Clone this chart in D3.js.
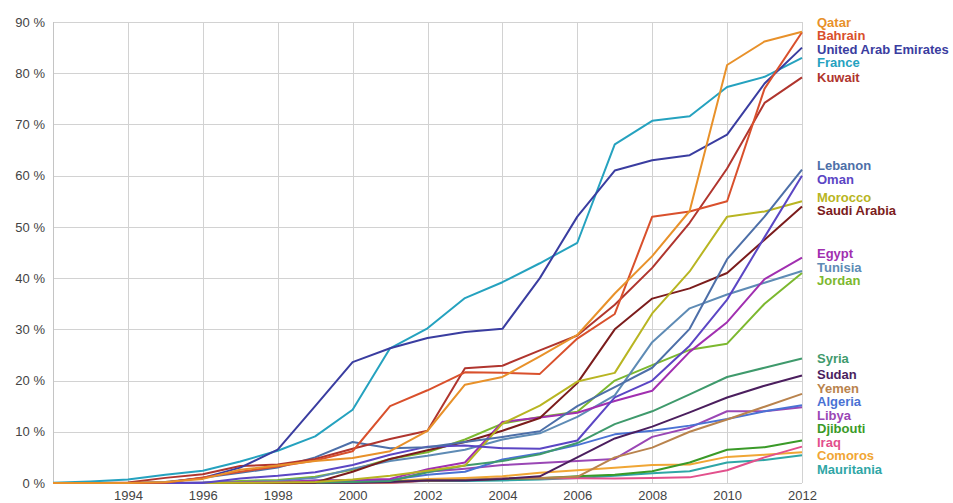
<!DOCTYPE html>
<html>
<head>
<meta charset="utf-8">
<script src="https://cdn.jsdelivr.net/npm/d3@7"></script>
<style>
  html, body { margin: 0; padding: 0; background: #fff; }
  svg { display: block; }
  text { font-family: Arial, "Liberation Sans", sans-serif; }
</style>
</head>
<body>
<svg id="chart" width="953" height="503"></svg>
<script>
// ---- Data (internet users, % of population) ----
const years = [1992,1993,1994,1995,1996,1997,1998,1999,2000,2001,2002,2003,2004,2005,2006,2007,2008,2009,2010,2011,2012];
const xTicks = [1994,1996,1998,2000,2002,2004,2006,2008,2010,2012];
const yTicks = [0,10,20,30,40,50,60,70,80,90];

const countries = ["Qatar","Bahrain","United Arab Emirates","France","Kuwait","Lebanon","Oman","Morocco","Saudi Arabia","Egypt","Tunisia","Jordan","Syria","Sudan","Yemen","Algeria","Libya","Djibouti","Iraq","Comoros","Mauritania"];
const colors = ["#e8912a","#d9502c","#3a3da0","#25a2bf","#b0352e","#4d6fa8","#5b46c4","#b8b522","#7b1c1c","#a12fb0","#5e8bb5","#7cb82f","#3f9a6c","#4b1e5e","#b9834d","#4a72d4","#9a47b5","#3a9a28","#e2508c","#f0a635","#2fa6a6"];

const qatar      = [0,0,0,0.2,0.8,2.6,3.4,4.3,4.9,6.2,10.2,19.2,20.7,24.7,28.9,37.0,44.3,53.1,81.6,86.2,88.1];
const bahrain    = [0,0,0,0.03,1.1,2.2,3.2,4.4,6.2,15.0,18.1,21.6,21.5,21.3,28.2,33.0,52.0,53.0,55.0,77.0,88.0];
const uae        = [0,0,0,0.1,1.0,3.0,6.5,15.0,23.6,26.3,28.3,29.5,30.1,40.0,52.0,61.0,63.0,64.0,68.0,78.0,85.0];
const france     = [0.05,0.3,0.7,1.6,2.4,4.2,6.3,9.1,14.3,26.3,30.2,36.1,39.2,42.9,46.9,66.1,70.7,71.6,77.3,79.3,83.0];
const kuwait     = [0,0,0.1,1.0,1.7,3.3,3.6,4.7,6.7,8.6,10.2,22.4,22.9,25.9,28.8,34.8,42.0,50.8,61.4,74.2,79.2];
const lebanon    = [0,0,0,0.2,1.0,2.0,3.0,5.0,8.0,6.8,7.0,8.0,9.0,10.1,15.0,18.7,22.5,30.1,43.7,52.0,61.2];
const oman       = [0,0,0,0,0,0.9,1.4,2.1,3.5,5.5,7.1,7.3,6.8,6.7,8.3,16.7,20.0,26.8,35.8,48.0,60.0];
const morocco    = [0,0,0,0,0.02,0.05,0.1,0.2,0.7,1.4,2.4,3.4,11.6,15.1,19.8,21.5,33.1,41.3,52.0,53.0,55.0];
const saudi      = [0,0,0,0,0,0,0,0.1,2.2,4.7,6.4,8.0,10.2,12.7,19.5,30.0,36.0,38.0,41.0,47.5,54.0];
const egypt      = [0,0,0,0,0.05,0.1,0.2,0.5,0.6,0.8,2.7,4.0,11.9,12.8,13.7,16.0,18.0,25.6,31.4,39.8,44.0];
const tunisia    = [0,0,0,0,0.1,0.2,0.4,1.0,2.8,4.3,5.3,6.5,8.5,9.7,12.9,17.1,27.5,34.1,36.8,39.1,41.4];
const jordan     = [0,0,0,0,0.05,0.4,0.6,1.2,2.6,4.7,6.0,8.5,11.6,12.9,13.9,20.0,23.0,26.0,27.2,35.0,41.0];
const syria      = [0,0,0,0,0,0,0.05,0.1,0.2,0.4,2.1,3.4,4.3,5.6,7.8,11.5,14.0,17.3,20.7,22.5,24.3];
const sudan      = [0,0,0,0,0,0,0,0.03,0.03,0.2,0.5,0.5,0.8,1.3,5.0,8.7,11.0,13.8,16.7,19.0,21.0];
const yemen      = [0,0,0,0,0,0.01,0.02,0.05,0.08,0.09,0.5,0.6,0.9,1.0,1.2,5.0,6.9,10.0,12.4,14.9,17.4];
const algeria    = [0,0,0,0,0,0,0.02,0.5,0.5,0.65,1.6,2.2,4.6,5.8,7.4,9.5,10.2,11.2,12.5,14.0,15.2];
const libya      = [0,0,0,0,0,0,0.1,0.2,0.2,0.4,2.2,2.8,3.5,3.9,4.3,4.7,9.0,10.8,14.0,14.0,14.8];
const djibouti   = [0,0,0,0,0,0.05,0.1,0.2,0.2,0.3,0.5,0.6,0.8,0.95,1.3,1.6,2.3,4.0,6.5,7.0,8.3];
const iraq       = [0,0,0,0,0,0,0,0,0,0,0.5,0.6,0.9,0.9,0.95,0.9,1.0,1.1,2.5,5.0,7.1];
const comoros    = [0,0,0,0,0,0,0.1,0.2,0.3,0.4,0.8,1.0,1.3,2.0,2.5,3.0,3.5,3.6,5.1,5.5,6.0];
const mauritania = [0,0,0,0,0,0,0.05,0.2,0.2,0.3,0.4,0.4,0.5,0.7,1.0,1.4,1.9,2.3,4.0,4.5,5.4];

const seriesValues = [qatar,bahrain,uae,france,kuwait,lebanon,oman,morocco,saudi,egypt,tunisia,jordan,syria,sudan,yemen,algeria,libya,djibouti,iraq,comoros,mauritania];

// ---- Layout ----
const plot = { left: 53, right: 802, top: 22, bottom: 483 };
const svg = d3.select("#chart");

const x = d3.scaleLinear().domain([1992, 2012]).range([plot.left, plot.right]);
const y = d3.scaleLinear().domain([0, 90]).range([plot.bottom, plot.top]);

// gridlines
const grid = svg.append("g");
grid.selectAll("line.h").data(yTicks).enter().append("line")
  .attr("x1", plot.left).attr("x2", plot.right)
  .attr("y1", d => Math.round(y(d)) + 0.5).attr("y2", d => Math.round(y(d)) + 0.5)
  .attr("stroke", "#d2d2d2").attr("stroke-width", 1);
grid.selectAll("line.v").data(xTicks).enter().append("line")
  .attr("y1", plot.top).attr("y2", plot.bottom)
  .attr("x1", d => Math.round(x(d)) + 0.5).attr("x2", d => Math.round(x(d)) + 0.5)
  .attr("stroke", "#d2d2d2").attr("stroke-width", 1);
// left axis line
svg.append("line")
  .attr("x1", plot.left + 0.5).attr("x2", plot.left + 0.5)
  .attr("y1", plot.top).attr("y2", plot.bottom)
  .attr("stroke", "#c4c4c4");

// y axis labels
const yAxis = d3.axisLeft(y).tickValues(yTicks).tickSize(0).tickPadding(8).tickFormat(d => d + " %");
const gy = svg.append("g").attr("transform", `translate(${plot.left},0)`).call(yAxis);
gy.select(".domain").remove();
gy.selectAll("text").attr("font-size", 13).attr("fill", "#444").attr("font-family", "Arial, 'Liberation Sans', sans-serif");

// x axis labels
const xAxis = d3.axisBottom(x).tickValues(xTicks).tickSize(0).tickPadding(8).tickFormat(d3.format("d"));
const gx = svg.append("g").attr("transform", `translate(0,${plot.bottom})`).call(xAxis);
gx.select(".domain").remove();
gx.selectAll("text").attr("font-size", 13).attr("fill", "#444").attr("font-family", "Arial, 'Liberation Sans', sans-serif");

// lines
const line = d3.line().x((d, i) => x(years[i])).y(d => y(d));
const series = countries.map((name, i) => ({ name, color: colors[i], values: seriesValues[i] }));
svg.append("g").selectAll("path").data(series.slice().reverse()).enter().append("path")
  .attr("d", d => line(d.values))
  .attr("fill", "none")
  .attr("stroke", d => d.color)
  .attr("stroke-width", 2)
  .attr("stroke-linejoin", "round");

// end labels with cluster-based collision avoidance
const spacing = 13.5;
let clusters = series.map(s => ({ items: [s], targets: [y(s.values[s.values.length - 1])] }))
  .sort((a, b) => a.targets[0] - b.targets[0]);
function place(c) {
  const mean = d3.mean(c.targets);
  c.top = mean - (c.items.length - 1) * spacing / 2;
  c.bottom = c.top + (c.items.length - 1) * spacing;
}
clusters.forEach(place);
let merged = true;
while (merged) {
  merged = false;
  for (let i = 0; i < clusters.length - 1; i++) {
    const a = clusters[i], b = clusters[i + 1];
    if (a.bottom + spacing > b.top) {
      const c = { items: a.items.concat(b.items), targets: a.targets.concat(b.targets) };
      place(c);
      clusters.splice(i, 2, c);
      merged = true;
      break;
    }
  }
}
const labels = [];
clusters.forEach(c => c.items.forEach((s, k) => labels.push({ s, yPos: c.top + k * spacing })));
svg.append("g").selectAll("text").data(labels).enter().append("text")
  .attr("x", plot.right + 15)
  .attr("y", d => d.yPos)
  .attr("dy", "0.35em")
  .attr("font-size", 13)
  .attr("font-weight", "bold")
  .attr("fill", d => d.s.color)
  .text(d => d.s.name);
</script>
</body>
</html>
